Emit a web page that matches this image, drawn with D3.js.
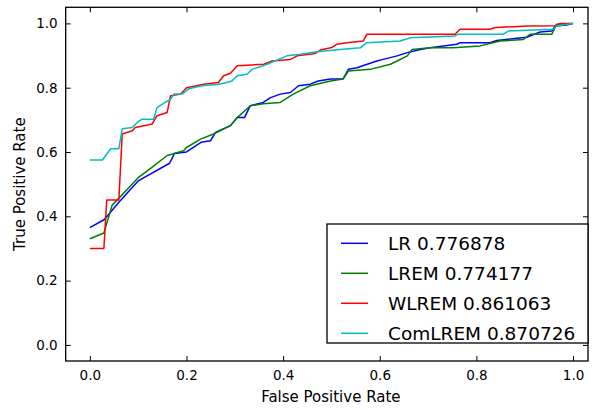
<!DOCTYPE html>
<html>
<head>
<meta charset="utf-8">
<title>ROC curves</title>
<script src="https://d3js.org/d3.v7.min.js"></script>
<style>
  body { margin: 0; background: #fff; }
  svg { display: block; font-family: "DejaVu Sans", sans-serif; }
  .tick text { font-size: 13.5px; fill: #000; }
  .tick line { stroke: #000; stroke-width: 1; }
</style>
</head>
<body>
<svg id="chart" width="593" height="410"></svg>
<script>
// series names + AUC values from the legend
var names = ["LR", "LREM", "WLREM", "ComLREM"];
var aucs = ["0.776878", "0.774177", "0.861063", "0.870726"];
var colors = ["#0000ff", "#008000", "#ff0000", "#00bfbf"];

// [fpr, tpr] points
var lrPoints = [[0,0.365],[0.03,0.39],[0.06,0.444],[0.1,0.51],[0.165,0.565],[0.175,0.595],[0.2,0.6],
  [0.23,0.63],[0.25,0.635],[0.26,0.661],[0.291,0.682],[0.305,0.707],[0.32,0.707],[0.332,0.744],
  [0.359,0.754],[0.374,0.769],[0.394,0.78],[0.415,0.785],[0.432,0.806],[0.456,0.811],[0.473,0.821],
  [0.498,0.827],[0.524,0.827],[0.535,0.857],[0.553,0.862],[0.574,0.873],[0.594,0.883],[0.607,0.888],
  [0.636,0.899],[0.657,0.909],[0.684,0.919],[0.704,0.924],[0.76,0.935],[0.766,0.94],[0.828,0.94],
  [0.842,0.947],[0.904,0.957],[0.932,0.973],[0.956,0.976],[0.963,0.992],[0.987,0.995],[1.0,1.0]];

var lremPoints = [[0,0.33],[0.029,0.348],[0.046,0.434],[0.1,0.52],[0.125,0.548],[0.16,0.589],[0.194,0.604],
  [0.2,0.614],[0.229,0.64],[0.256,0.656],[0.291,0.682],[0.305,0.707],[0.332,0.744],[0.359,0.75],
  [0.394,0.754],[0.421,0.78],[0.456,0.806],[0.498,0.821],[0.524,0.827],[0.535,0.852],[0.58,0.857],
  [0.622,0.873],[0.636,0.883],[0.657,0.899],[0.667,0.919],[0.704,0.924],[0.752,0.924],[0.808,0.93],
  [0.849,0.945],[0.897,0.95],[0.911,0.966],[0.956,0.966],[0.966,0.997],[1.0,1.0]];

var wlremPoints = [[0,0.3],[0.029,0.3],[0.035,0.451],[0.06,0.451],[0.067,0.656],[0.088,0.666],[0.094,0.676],
  [0.129,0.687],[0.139,0.713],[0.16,0.723],[0.167,0.775],[0.188,0.78],[0.2,0.8],[0.236,0.811],
  [0.266,0.816],[0.277,0.837],[0.291,0.845],[0.305,0.868],[0.36,0.873],[0.377,0.883],[0.415,0.888],
  [0.429,0.899],[0.466,0.906],[0.477,0.917],[0.501,0.925],[0.511,0.935],[0.532,0.94],[0.566,0.945],
  [0.573,0.966],[0.756,0.966],[0.766,0.982],[0.828,0.982],[0.839,0.987],[0.907,0.992],[0.963,0.993],
  [0.973,1.0],[1.0,1.0]];

var comlremPoints = [[0,0.575],[0.026,0.575],[0.043,0.61],[0.06,0.61],[0.067,0.672],[0.088,0.676],[0.098,0.692],
  [0.108,0.702],[0.132,0.702],[0.139,0.738],[0.156,0.754],[0.167,0.764],[0.174,0.78],[0.191,0.78],
  [0.205,0.797],[0.232,0.806],[0.263,0.81],[0.284,0.816],[0.294,0.821],[0.305,0.837],[0.325,0.842],
  [0.336,0.857],[0.367,0.873],[0.408,0.899],[0.436,0.904],[0.47,0.912],[0.518,0.919],[0.56,0.924],
  [0.573,0.94],[0.642,0.945],[0.663,0.955],[0.756,0.961],[0.762,0.966],[0.855,0.966],[0.866,0.976],
  [0.959,0.982],[0.966,0.992],[1.0,1.0]];

var xTicks = [0, 0.2, 0.4, 0.6, 0.8, 1.0];
var yTicks = [0, 0.2, 0.4, 0.6, 0.8, 1.0];

var allSeries = [lrPoints, lremPoints, wlremPoints, comlremPoints];

// plot area (don't call it "top", that's window.top)
var plotLeft = 65.7, plotRight = 588, plotTop = 7.3, plotBottom = 361;

var svg = d3.select("#chart");

var x = d3.scaleLinear().domain([-0.05, 1.031]).range([plotLeft, plotRight]);
var y = d3.scaleLinear().domain([-0.05, 1.05]).range([plotBottom, plotTop]);

var fmt = d3.format(".1f");

// ticks point inwards on all four sides (classic matplotlib)
svg.append("g")
  .attr("transform", "translate(0," + plotBottom + ")")
  .call(d3.axisBottom(x).tickValues(xTicks).tickFormat(fmt).tickSize(-5).tickPadding(9))
  .call(function(g) { g.select(".domain").remove(); });

svg.append("g")
  .attr("transform", "translate(0," + plotTop + ")")
  .call(d3.axisTop(x).tickValues(xTicks).tickFormat("").tickSize(-5))
  .call(function(g) { g.select(".domain").remove(); });

svg.append("g")
  .attr("transform", "translate(" + plotLeft + ",0)")
  .call(d3.axisLeft(y).tickValues(yTicks).tickFormat(fmt).tickSize(-5).tickPadding(8))
  .call(function(g) { g.select(".domain").remove(); });

svg.append("g")
  .attr("transform", "translate(" + plotRight + ",0)")
  .call(d3.axisRight(y).tickValues(yTicks).tickFormat("").tickSize(-5))
  .call(function(g) { g.select(".domain").remove(); });

svg.selectAll(".tick text").attr("font-family", "DejaVu Sans").attr("font-size", 13.5);

// curves
var line = d3.line()
  .x(function(d) { return x(d[0]); })
  .y(function(d) { return y(d[1]); });

svg.append("g")
  .selectAll("path.roc")
  .data(allSeries)
  .enter()
  .append("path")
  .attr("class", "roc")
  .attr("d", line)
  .style("fill", "none")
  .style("stroke", function(d, i) { return colors[i]; })
  .style("stroke-width", 1.5)
  .style("stroke-linejoin", "round");

// frame
svg.append("rect")
  .attr("x", plotLeft).attr("y", plotTop)
  .attr("width", plotRight - plotLeft).attr("height", plotBottom - plotTop)
  .style("fill", "none").style("stroke", "#000").style("stroke-width", 1.3);

// axis labels
svg.append("text")
  .attr("x", (plotLeft + plotRight) / 2 + 4)
  .attr("y", 402)
  .attr("text-anchor", "middle")
  .style("font-size", "15px")
  .text("False Positive Rate");

svg.append("text")
  .attr("transform", "translate(25," + ((plotTop + plotBottom) / 2) + ") rotate(-90)")
  .attr("text-anchor", "middle")
  .style("font-size", "15px")
  .text("True Positive Rate");

// legend
var legend = svg.append("g").attr("transform", "translate(327,224)");
legend.append("rect")
  .attr("width", 261).attr("height", 119)
  .style("fill", "#fff").style("stroke", "#000").style("stroke-width", 1.3);

var items = legend.selectAll("g.item")
  .data(names)
  .enter()
  .append("g")
  .attr("class", "item")
  .attr("transform", function(d, i) { return "translate(0," + (19.3 + i * 30) + ")"; });

items.append("line")
  .attr("x1", 14).attr("x2", 41)
  .style("stroke", function(d, i) { return colors[i]; })
  .style("stroke-width", 1.5);

items.append("text")
  .attr("x", 61)
  .attr("dy", "0.36em")
  .style("font-size", "18.5px")
  .text(function(d, i) { return d + " " + aucs[i]; });
</script>
</body>
</html>
